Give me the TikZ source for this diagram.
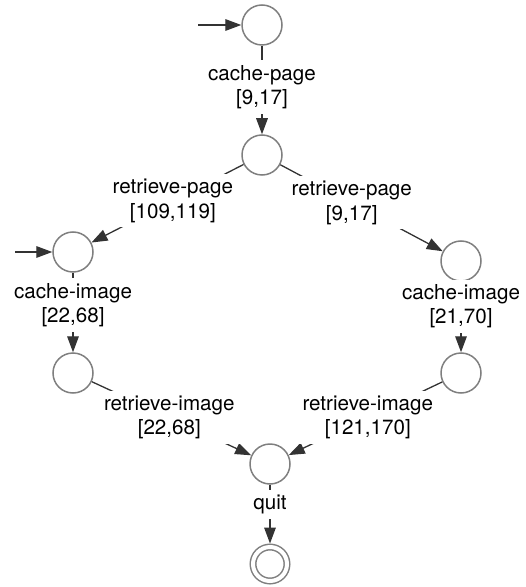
\documentclass[tikz,border=0pt]{standalone}
\usepackage{fontspec}
\setmainfont{TeX Gyre Heros}
\usetikzlibrary{arrows.meta,automata,positioning}
\definecolor{ringgray}{HTML}{7F7F7F}
\definecolor{edgegray}{HTML}{333333}

\begin{document}
\begin{tikzpicture}[->,>={Triangle[length=8pt,width=5.8pt]},on grid,
        every state/.style={draw=ringgray,line width=0.75pt,minimum size=20pt,inner sep=0pt},
        done/.style={double=white,double distance=2pt,minimum size=17pt,outer sep=1.75pt},
        lbl/.style={fill=white,align=center,inner sep=2.5pt,text=black,
          font=\fontsize{10.3}{12.2}\selectfont},
        every edge/.append style={draw=edgegray,line width=0.65pt}]
        \useasboundingbox (0,0) rectangle (262.5pt,-293.5pt);

        \node[state] (q0) at (131pt,-12.5pt) {};
        \node[state] (q1) [below=65pt of q0] {};
        \node[state] (q2) [below left=48.5pt and 94.5pt of q1] {};
        \node[state] (q3) [below right=53pt and 99.5pt of q1] {};
        \node[state] (q4) [below=60.5pt of q2] {};
        \node[state] (q5) [below=56pt of q3] {};
        \node[state] (q6) [below right=45.5pt and 98.5pt of q4] {};
        \node[state,done] (q7) [below=50pt of q6] {};
        \coordinate[left=32pt of q0] (in0);
        \coordinate[left=29pt of q2] (in2);

        \path (in0) edge (q0) % start
              (in2) edge (q2) % start
              (q0) edge node[lbl,pos=0.47] {cache-page\\{}[9,17]} (q1)
              (q1) edge node[lbl,pos=0.465] {retrieve-page\\{}[109,119]} (q2)
                   edge node[lbl,pos=0.44] {retrieve-page\\{}[9,17]} (q3)
              (q2) edge node[lbl,pos=0.41] {cache-image\\{}[22,68]} (q4)
              (q3) edge node[lbl,pos=0.35] {cache-image\\{}[21,70]} (q5)
              (q4) edge node[lbl,pos=0.486] {retrieve-image\\{}[22,68]} (q6)
              (q5) edge node[lbl,pos=0.485] {retrieve-image\\{}[121,170]} (q6)
              (q6) edge node[lbl,pos=0.34] {quit} (q7)
              ;
      \end{tikzpicture}
\end{document}
